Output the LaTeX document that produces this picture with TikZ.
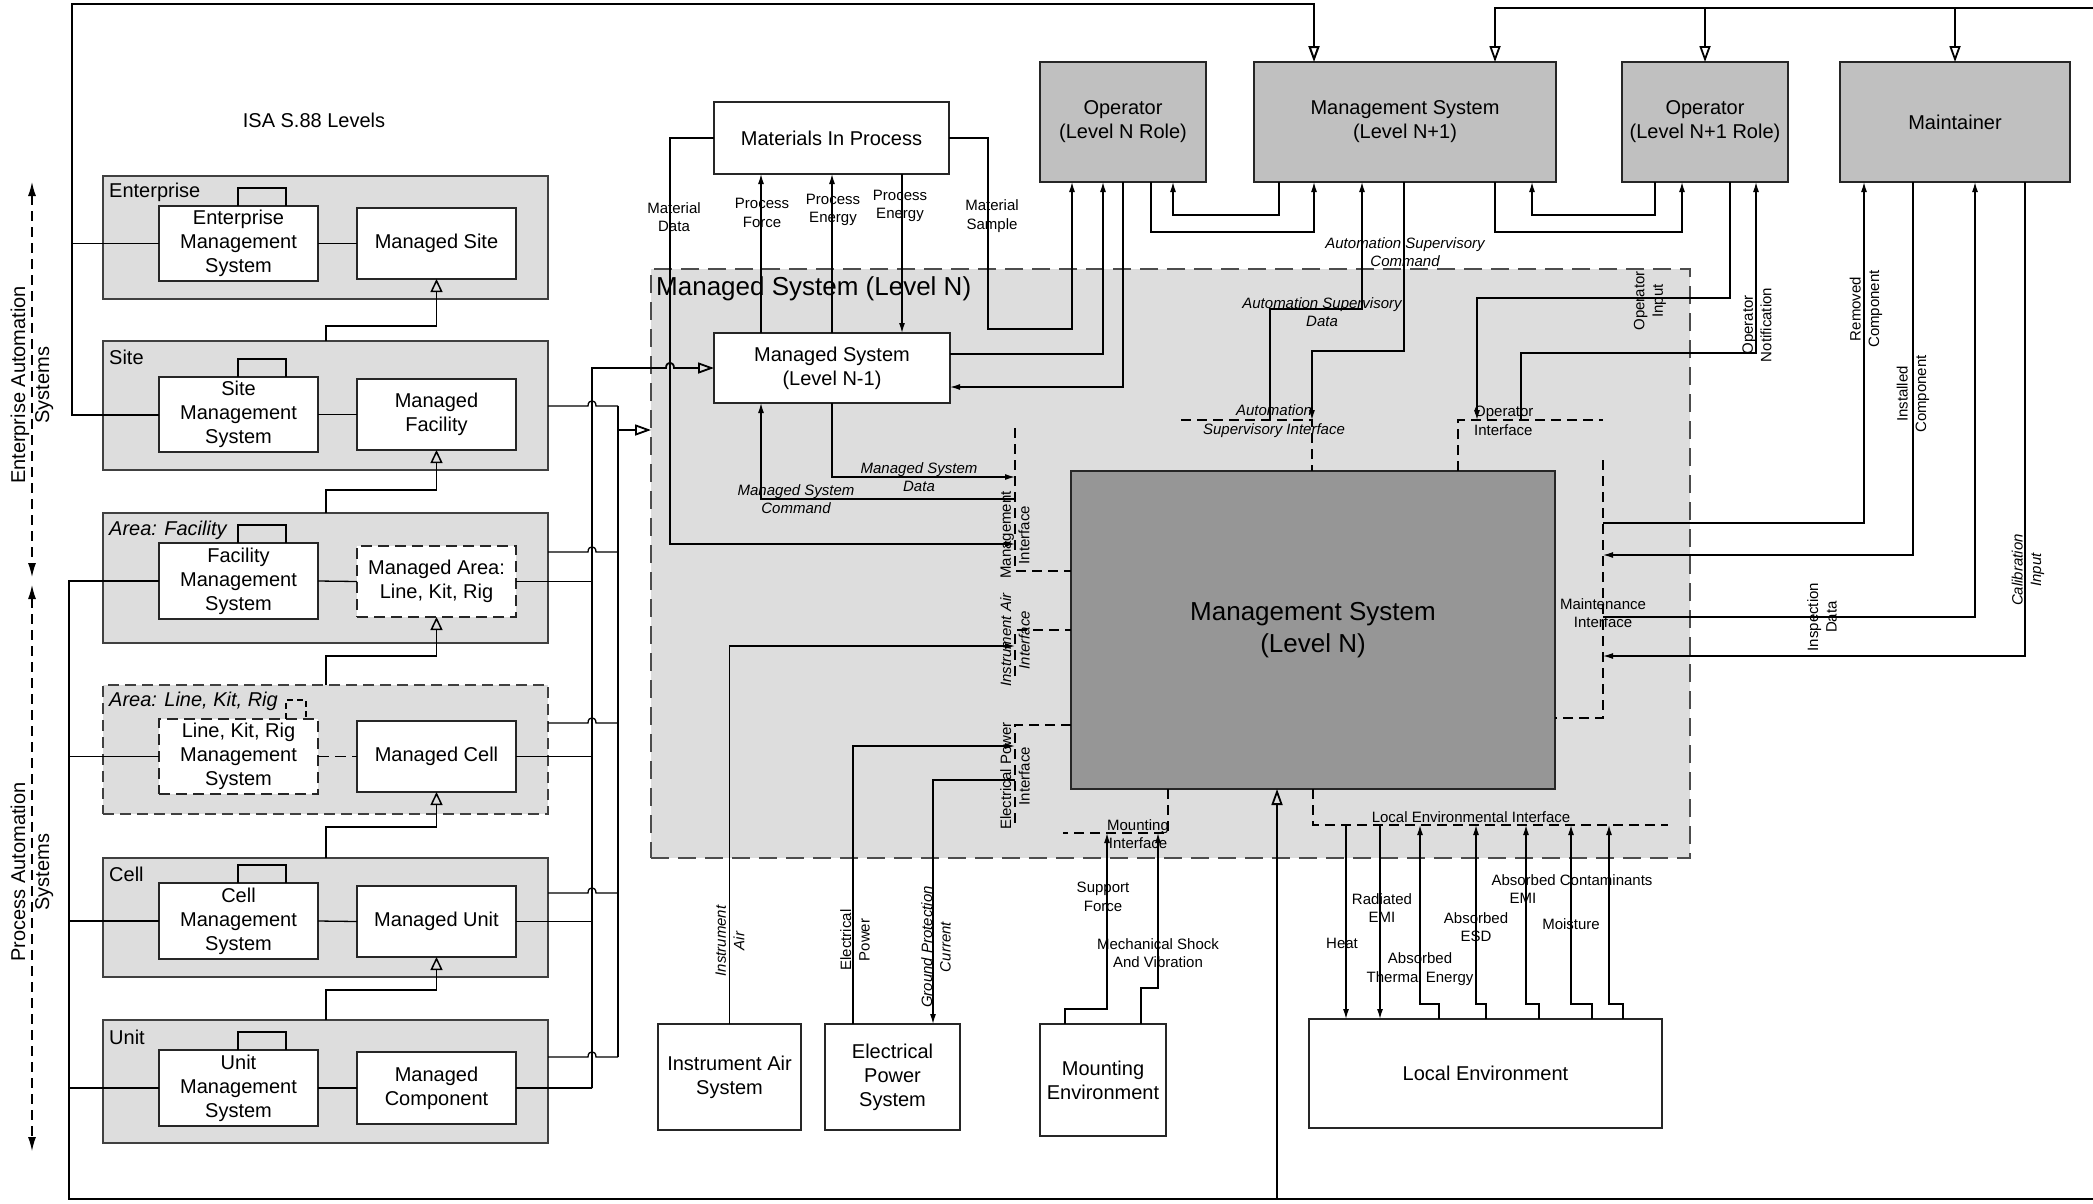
\documentclass[tikz,border=0pt]{standalone}
\usepackage{fontspec}
\setmainfont{Liberation Sans}
\usepackage{tikz}
\usetikzlibrary{arrows.meta,calc}
\definecolor{grpgray}{RGB}{221,221,221}
\definecolor{rolegray}{RGB}{192,192,192}
\definecolor{msgray}{RGB}{150,150,150}
\newcommand{\boxfont}{\fontsize{20}{24}\selectfont}
\newcommand{\lblfont}{\fontsize{15}{18.5}\selectfont}
\newcommand{\bigfont}{\fontsize{26}{32}\selectfont}
\tikzset{
  >={Latex[length=10pt,width=6pt]},
  grpbox/.style={draw=black!75,fill=grpgray,line width=1.5pt,minimum width=445pt,
    inner sep=0pt,outer sep=0pt},
  sysbox/.style={draw=black!85,fill=white,line width=1.5pt,align=center,font=\boxfont,
    inner sep=0pt,outer sep=0pt,minimum width=159pt},
  rolebox/.style={draw=black!85,fill=rolegray,line width=1.5pt,align=center,
    font=\boxfont,inner sep=0pt,outer sep=0pt},
  extbox/.style={draw=black!85,fill=white,line width=1.5pt,align=center,
    font=\boxfont,inner sep=0pt,outer sep=0pt},
  dashbox/.style={dash pattern=on 11pt off 6pt},
  grplbl/.style={anchor=west,font=\boxfont,inner sep=0pt},
  lbl/.style={font=\lblfont,align=center,inner sep=0pt},
  ilbl/.style={font=\lblfont\itshape,align=center,inner sep=0pt},
  wire/.style={line width=1.3pt},
  flow/.style={->,line width=1.3pt},
  gen/.style={-{Triangle[open,length=13pt,width=12pt]},line width=1.5pt},
  busarr/.style={-{Triangle[open,length=16pt,width=11pt]},line width=1.8pt},
  iface/.style={line width=1.3pt,dash pattern=on 10pt off 6pt},
  frame/.style={line width=2pt},
  span/.style={{Latex[length=14pt,width=8pt]}-{Latex[length=14pt,width=8pt]},
    line width=1.2pt,dash pattern=on 10pt off 6pt},
}

\begin{document}
\begin{tikzpicture}[x=1pt,y=-1pt]
  \useasboundingbox (0,0) rectangle (2093,1203);

  % managed system region
  \node[draw=black!70,fill=grpgray,line width=1.5pt,dash pattern=on 18pt off 9pt,
    minimum width=1039pt,minimum height=589pt,inner sep=0pt,outer sep=0pt]
    (msys) at (1170.5,563.5) {};
  \node[anchor=west,font=\bigfont,inner sep=0pt] at (656,289) {Managed System (Level N)};

  % ISA S.88 levels
  \node[font=\boxfont] at (314,120) {ISA S.88 Levels};
  \node[grpbox,minimum height=123pt] (ent) at (325.5,237.5) {};
  \node[grpbox,minimum height=129pt] (site) at (325.5,405.5) {};
  \node[grpbox,minimum height=130pt] (areaf) at (325.5,578) {};
  \node[grpbox,dashbox,minimum height=129pt] (arealkr) at (325.5,749.5) {};
  \node[grpbox,minimum height=119pt] (cell) at (325.5,917.5) {};
  \node[grpbox,minimum height=123pt] (unit) at (325.5,1081.5) {};
  \node[grplbl] at (109,192) {Enterprise};
  \node[grplbl] at (109,357) {Site};
  \node[grplbl,font=\boxfont\itshape] at (109,530) {Area: Facility};
  \node[grplbl,font=\boxfont\itshape] at (109,701) {Area: Line, Kit, Rig};
  \node[grplbl] at (109,874) {Cell};
  \node[grplbl] at (109,1037) {Unit};

  \node[sysbox,minimum height=75pt] (ems) at (238.5,243.5) {Enterprise\\Management\\System};
  \node[sysbox,minimum height=71pt] (msite) at (436.5,243.5) {Managed Site};
  \node[sysbox,minimum height=75pt] (sms) at (238.5,414.5) {Site\\Management\\System};
  \node[sysbox,minimum height=71pt] (mfac) at (436.5,414.5) {Managed\\Facility};
  \node[sysbox,minimum height=76pt] (fms) at (238.5,581) {Facility\\Management\\System};
  \node[sysbox,dashbox,minimum height=71pt] (marea) at (436.5,581.5) {Managed Area:\\Line, Kit, Rig};
  \node[sysbox,dashbox,minimum height=75pt] (lms) at (238.5,756.5) {Line, Kit, Rig\\Management\\System};
  \node[sysbox,minimum height=71pt] (mcell) at (436.5,756.5) {Managed Cell};
  \node[sysbox,minimum height=76pt] (cms) at (238.5,921) {Cell\\Management\\System};
  \node[sysbox,minimum height=71pt] (munit) at (436.5,921.5) {Managed Unit};
  \node[sysbox,minimum height=76pt] (ums) at (238.5,1088) {Unit\\Management\\System};
  \node[sysbox,minimum height=72pt] (mcomp) at (436.5,1088) {Managed\\Component};

  \foreach \a/\b in {ems/msite,sms/mfac,fms/marea,cms/munit,ums/mcomp}
    \draw[wire] (\a.east) -- (\b.west);
  \draw[wire,dashbox] (lms.east) -- (mcell.west);
  \foreach \n in {ems,sms,fms,cms,ums}
    \draw[wire] (\n.north -| 238,0) -- ++(0,-18) -| (\n.north -| 286,0);
  \draw[wire,dash pattern=on 6pt off 4pt] (lms.north -| 286,0) -- ++(0,-19) -| (lms.north -| 306,0);
  \foreach \g/\m/\y in {site/msite/326,areaf/mfac/490,arealkr/marea/656,cell/mcell/827,unit/munit/990}
    \draw[gen] (\g.north -| 326,0) -- (326,\y) -| (\m.south);

  % side spans
  \coordinate (eatop) at (32,182);
  \coordinate (eabot) at (32,577);
  \coordinate (patop) at (32,585);
  \coordinate (pabot) at (32,1151);
  \draw[span] (eatop) -- (eabot);
  \draw[span] (patop) -- (pabot);
  \node[font=\boxfont,align=center,rotate=90] at (32,385) {Enterprise Automation\\Systems};
  \node[font=\boxfont,align=center,rotate=90] at (32,872) {Process Automation\\Systems};

  % boxes of the level N world
  \node[rolebox,minimum width=166pt,minimum height=120pt] (opn) at (1123,122) {Operator\\(Level N Role)};
  \node[rolebox,minimum width=302pt,minimum height=120pt] (msn1) at (1405,122) {Management System\\(Level N+1)};
  \node[rolebox,minimum width=166pt,minimum height=120pt] (opn1) at (1705,122) {Operator\\(Level N+1 Role)};
  \node[rolebox,minimum width=230pt,minimum height=120pt] (maint) at (1955,122) {Maintainer};
  \node[extbox,minimum width=235pt,minimum height=72pt] (mip) at (831.5,138) {Materials In Process};
  \node[extbox,minimum width=236pt,minimum height=70pt] (msnm1) at (832,368) {Managed System\\(Level N-1)};
  \node[draw=black!85,fill=msgray,line width=1.5pt,align=center,font=\bigfont,inner sep=0pt,
    outer sep=0pt,minimum width=484pt,minimum height=318pt] (msn) at (1313,630) {Management System\\(Level N)};
  \node[extbox,minimum width=143pt,minimum height=106pt] (ias) at (729.5,1077) {Instrument Air\\System};
  \node[extbox,minimum width=135pt,minimum height=106pt] (eps) at (892.5,1077) {Electrical\\Power\\System};
  \node[extbox,minimum width=126pt,minimum height=112pt] (ment) at (1103,1080) {Mounting\\Environment};
  \node[extbox,minimum width=353pt,minimum height=109pt] (lenv) at (1485.5,1073.5) {Local Environment};

  % outer frame lines
  \coordinate (topr) at (2093,8);
  \coordinate (bot) at (2093,1199);
  \draw[wire] (ems.west) -- (72,0 |- ems.west);
  \draw[busarr,frame] (sms.west) -| (72,4) -| (msn1.north -| 1314,0);
  \draw[frame] (bot) -| (69,0 |- fms.west) -- (fms.west);
  \foreach \n in {lms,cms,ums}
    \draw[wire] (69,0 |- \n.west) -- (\n.west);
  \draw[busarr] (bot -| 1277,0) -- (msn.south -| 1277,0);
  \draw[busarr] (topr) -| (msn1.north -| 1495,0);
  \draw[busarr] (opn1.north |- topr) -- (opn1.north);
  \draw[busarr] (maint.north |- topr) -- (maint.north);

  % bus into the managed system
  \foreach \g/\y in {site/406,areaf/552,arealkr/723,cell/893,unit/1057}
    \draw[wire] (\g.east |- 0,\y) -- (588,\y) .. controls (588,\y-7) and (596,\y-7) .. (596,\y) -- (618,\y);
  \foreach \m in {marea,mcell,munit,mcomp}
    \draw[wire] (\m.east) -- (592,0 |- \m.east);
  \draw[wire] (618,406) -- (618,1057);
  \draw[busarr] (618,430) -- (msys.west |- 0,430);
  \draw[busarr] (592,0 |- mcomp.east) -- (592,368) -- (666,368)
    .. controls (666,361) and (674,361) .. (674,368) -- (msnm1.west);

  % interfaces
  \coordinate (mgif) at (1015,428);
  \coordinate (auif) at (1312,420);
  \coordinate (opif) at (1458,420);
  \coordinate (mtif) at (1603,460);
  \coordinate (mnif) at (1168,833);
  \coordinate (leif) at (1313,825);
  \draw[iface] (mgif) -- (1015,571) -- (msn.west |- 0,571);
  \draw[iface] (1015,676) -- (1015,630) -- (msn.west |- 0,630);
  \draw[iface] (msn.west |- 0,725) -- (1015,725) -- (1015,825);
  \draw[iface] (msn.south -| mnif) -- (mnif) -- (1063,833);
  \draw[iface] (msn.south -| leif) -- (leif) -- (1668,825);
  \draw[iface] (mtif) -- (1603,718) -- (msn.east |- 0,718);
  \draw[iface] (msn.north -| opif) -- (opif) -- (1603,420);
  \draw[iface] (1181,420) -- (auif) -- (msn.north -| auif);
  \node[lbl,rotate=90] at (1015,535) {Management\\Interface};
  \node[ilbl,rotate=90] at (1015,640) {Instrument Air\\Interface};
  \node[lbl,rotate=90] at (1015,776) {Electrical Power\\Interface};
  \node[lbl] at (1603,613) {Maintenance\\Interface};
  \node[ilbl] at (1274,421) {Automation\\Supervisory Interface};
  \node[lbl,anchor=west,align=left] at (1474,421) {Operator\\Interface};
  \node[lbl] at (1471,817) {Local Environmental Interface};
  \node[lbl] at (1138,834) {Mounting\\Interface};

  % material flows
  \draw[flow] (mip.west) -| (670,544) -- (mgif |- 0,544);
  \draw[flow] (msnm1.north -| 761,0) -- (mip.south -| 761,0);
  \draw[flow] (msnm1.north -| 832,0) -- (mip.south -| 832,0);
  \draw[flow] (mip.south -| 902,0) -- (msnm1.north -| 902,0);
  \draw[flow] (mip.east) -| (988,329) -| (opn.south -| 1072,0);
  \node[lbl] at (674,217) {Material\\Data};
  \node[lbl] at (762,213) {Process\\Force};
  \node[lbl] at (833,210) {Process\\Energy};
  \node[lbl] at (900,206) {Process\\Energy};
  \node[lbl] at (992,216) {Material\\Sample};

  % operator and supervisory flows
  \draw[flow] (msnm1.east |- 0,354) -| (opn.south -| 1103,0);
  \draw[flow] (opn.south -| 1123,0) |- (msnm1.east |- 0,387);
  \draw[flow] (opn.south -| 1151,0) |- (1314,232) -- (msn1.south -| 1314,0);
  \draw[flow] (msn1.south -| 1279,0) |- (1173,215) -- (opn.south -| 1173,0);
  \draw[flow] (msn1.south -| 1495,0) |- (1682,232) -- (opn1.south -| 1682,0);
  \draw[flow] (opn1.south -| 1655,0) |- (1532,215) -- (msn1.south -| 1532,0);
  \draw[flow] (auif -| 1270,0) |- (1362,309) -- (msn1.south -| 1362,0);
  \draw[flow] (msn1.south -| 1404,0) |- (1312,351) -- (auif);
  \draw[flow] (opn1.south -| 1730,0) |- (1477,298) -- (opif -| 1477,0);
  \draw[flow] (opif -| 1521,0) |- (1756,353) -- (opn1.south -| 1756,0);
  \node[ilbl] at (1405,252) {Automation Supervisory\\Command};
  \node[ilbl] at (1322,312) {Automation Supervisory\\Data};
  \node[lbl,rotate=90] at (1650,301) {Operator\\Input};
  \node[lbl,rotate=90] at (1757,325) {Operator\\Notification};

  % maintenance flows
  \draw[flow] (mtif |- 0,523) -| (maint.south -| 1864,0);
  \draw[flow] (maint.south -| 1913,0) |- (mtif |- 0,555);
  \draw[flow] (mtif |- 0,617) -| (maint.south -| 1975,0);
  \draw[flow] (maint.south -| 2025,0) |- (mtif |- 0,656);
  \node[lbl,rotate=90] at (1866,309) {Removed\\Component};
  \node[lbl,rotate=90] at (1913,394) {Installed\\Component};
  \node[lbl,rotate=90] at (1822,617) {Inspection\\Data};
  \node[ilbl,rotate=90] at (2028,570) {Calibration\\Input};

  % managed system (level N-1) flows
  \draw[flow] (mgif |- 0,499) -| (msnm1.south -| 761,0);
  \draw[flow] (msnm1.south -| 832,0) |- (mgif |- 0,477);
  \node[ilbl] at (919,477) {Managed System\\Data};
  \node[ilbl] at (796,499) {Managed System\\Command};

  % utilities and mounting
  \draw[flow] (ias.north) |- (mgif |- 0,646);
  \draw[flow] (eps.north -| 853,0) |- (mgif |- 0,746);
  \draw[flow] (mgif |- 0,780) -| (eps.north -| 933,0);
  \draw[flow] (ment.north -| 1065,0) |- (1107,1009) -- (mnif -| 1107,0);
  \draw[flow] (ment.north -| 1141,0) |- (1158,988) -- (mnif -| 1158,0);
  \node[ilbl,rotate=90] at (730,941) {Instrument\\Air};
  \node[lbl,rotate=90] at (855,940) {Electrical\\Power};
  \node[ilbl,rotate=90] at (936,947) {Ground Protection\\Current};
  \node[lbl] at (1103,897) {Support\\Force};
  \node[lbl] at (1158,953) {Mechanical Shock\\And Vibration};

  % local environment
  \draw[flow] (leif -| 1346,0) -- (lenv.north -| 1346,0);
  \draw[flow] (leif -| 1380,0) -- (lenv.north -| 1380,0);
  \foreach \bx/\ux in {1439/1420,1486/1476,1539/1526,1592/1571,1623/1609}
    \draw[flow] (lenv.north -| \bx,0) -- (\bx,1004) -| (leif -| \ux,0);
  \node[lbl] at (1342,943) {Heat};
  \node[lbl] at (1382,908) {Radiated\\EMI};
  \node[lbl] at (1420,969) {Absorbed\\Thermal Energy};
  \node[lbl] at (1476,927) {Absorbed\\ESD};
  \node[lbl] at (1572,880) {Absorbed Contaminants};
  \node[lbl] at (1523,898) {EMI};
  \node[lbl] at (1571,924) {Moisture};
\end{tikzpicture}
\end{document}
